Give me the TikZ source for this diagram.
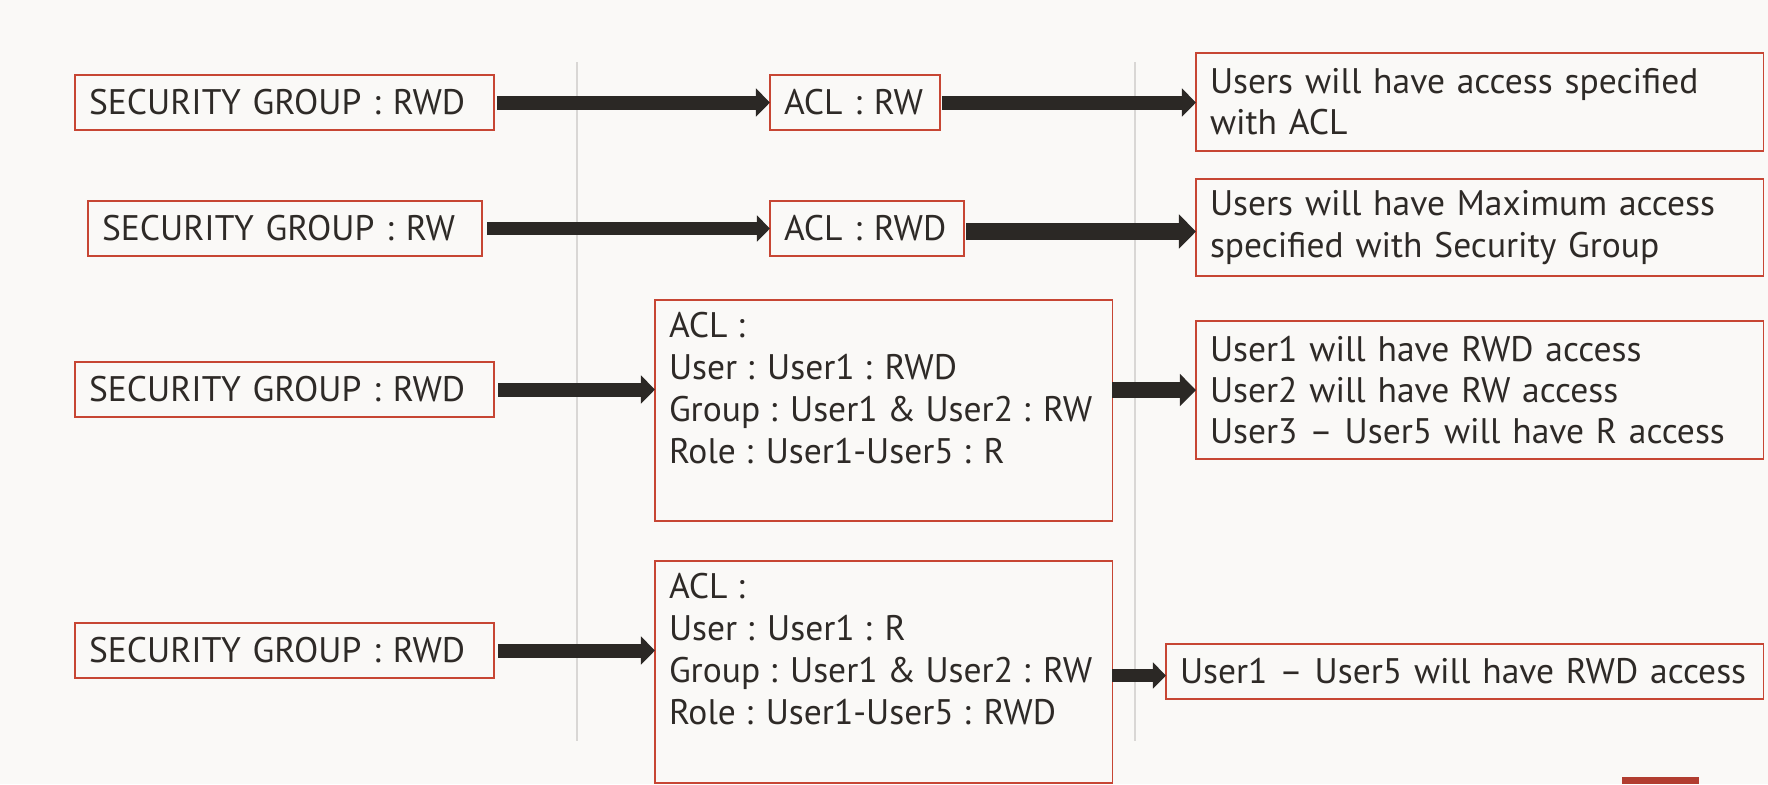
\documentclass[tikz,border=0pt]{standalone}
\usepackage{fontspec}
\setmainfont{PT Sans}
\usetikzlibrary{arrows.meta}

\definecolor{bgcol}{HTML}{FAF9F7}
\definecolor{boxred}{HTML}{C74634}
\definecolor{inkcol}{HTML}{2E2A27}
\definecolor{arrowcol}{HTML}{2B2825}
\definecolor{rulegray}{HTML}{D9D7D5}
\definecolor{tabred}{HTML}{B13D30}
\newcommand{\permfont}{\fontsize{10.1pt}{11.7pt}\selectfont}
\newcommand{\aclfont}{\fontsize{10.1pt}{11.95pt}\selectfont}

\begin{document}
\begin{tikzpicture}[x=0.01cm,y=-0.01cm,
    permbox/.style={draw=boxred,line width=0.015cm,inner xsep=0.14cm,inner ysep=0.08cm,
      outer sep=0pt,anchor=north west,align=left,font=\permfont,text=inkcol},
    flow/.style={draw=arrowcol,line width=#1,-{Triangle[length=0pt 1,width=0pt 1.95]}}]
  \useasboundingbox (0,0) rectangle (1768,784);
  \fill[bgcol] (0,0) rectangle (1768,784);

  % column rules
  \draw[rulegray,line width=0.027cm] (577,62) -- (577,741);
  \draw[rulegray,line width=0.027cm] (1135,62) -- (1135,741);

  % row 1
  \node[permbox,text width=3.91cm,minimum height=0.55cm] (sg1) at (75,75) {SECURITY GROUP : RWD};
  \node[permbox,text width=1.42cm,minimum height=0.55cm] (acl1) at (770,75) {ACL : RW};
  \node[permbox,text width=5.39cm,minimum height=0.98cm] (res1) at (1196,53)
    {Users will have access specified\\with ACL};

  % row 2
  \node[permbox,text width=3.66cm,minimum height=0.55cm] (sg2) at (88,201) {SECURITY GROUP : RW};
  \node[permbox,text width=1.66cm,minimum height=0.55cm] (acl2) at (770,201) {ACL : RWD};
  \node[permbox,text width=5.39cm,minimum height=0.97cm] (res2) at (1196,179)
    {Users will have Maximum access\\specified with Security Group};

  % row 3
  \node[permbox,text width=3.91cm,minimum height=0.55cm] (sg3) at (75,362) {SECURITY GROUP : RWD};
  \node[permbox,inner ysep=0.125cm] (acl3) at (655,300) {\parbox[c][1.96cm][t]{4.29cm}{\aclfont ACL :\\
    User : User1 : RWD\\Group : User1 \& User2 : RW\\Role : User1-User5 : R}};
  \node[permbox,text width=5.39cm,minimum height=1.38cm] (res3) at (1196,321)
    {User1 will have RWD access\\User2 will have RW access\\User3 -- User5 will have R access};

  % row 4
  \node[permbox,text width=3.91cm,minimum height=0.55cm] (sg4) at (75,623) {SECURITY GROUP : RWD};
  \node[permbox,inner ysep=0.125cm] (acl4) at (655,561) {\parbox[c][1.97cm][t]{4.29cm}{\aclfont ACL :\\
    User : User1 : R\\Group : User1 \& User2 : RW\\Role : User1-User5 : RWD}};
  \node[permbox,text width=5.69cm,minimum height=0.55cm] (res4) at (1166,644)
    {User1 -- User5 will have RWD access};

  % arrows
  \draw[flow=0.14cm] ([xshift=0.03cm]sg1.east) -- (acl1.west);
  \draw[flow=0.14cm] ([xshift=0.02cm]acl1.east) -- (acl1.east -| res1.west);
  \draw[flow=0.13cm] ([xshift=0.05cm]sg2.east) -- (acl2.west);
  \draw[flow=0.17cm] ([xshift=0.02cm,yshift=-0.03cm]acl2.east) -- ([yshift=-0.03cm]acl2.east -| res2.west);
  \draw[flow=0.14cm] ([xshift=0.04cm]sg3.east) -- (sg3.east -| acl3.west);
  \draw[flow=0.16cm] (res3.west -| acl3.east) -- (res3.west);
  \draw[flow=0.14cm] ([xshift=0.04cm]sg4.east) -- (sg4.east -| acl4.west);
  \draw[flow=0.13cm] ([yshift=-0.04cm]res4.west -| acl4.east) -- ([yshift=-0.04cm]res4.west);

  % cut-off tab at the bottom edge
  \fill[tabred] (1622,777) rectangle (1699,784);
\end{tikzpicture}
\end{document}
